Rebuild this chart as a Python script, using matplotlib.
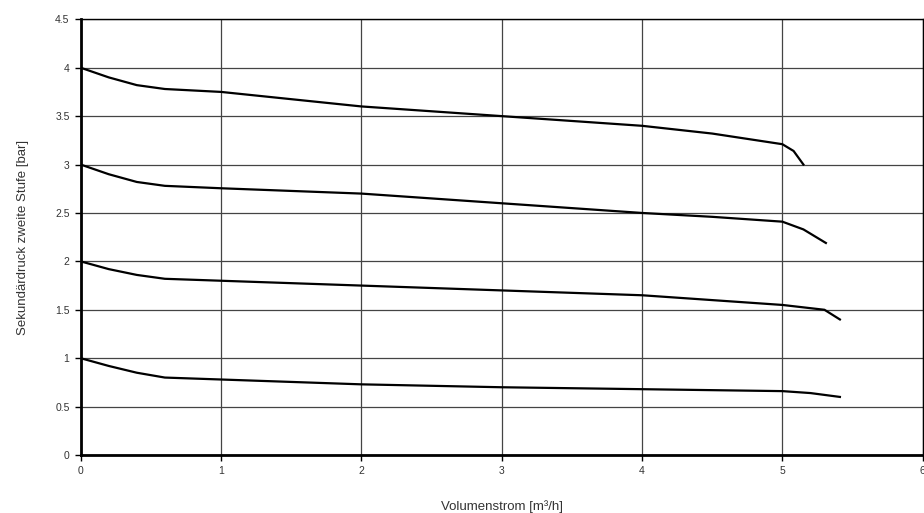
import matplotlib.pyplot as plt

plt.rcParams['font.family'] = ['Liberation Sans', 'DejaVu Sans']

# Sekundärdruck zweite Stufe über Volumenstrom, vier Kennlinien
x1 = [0, 0.2, 0.4, 0.6, 1.0, 2.0, 3.0, 4.0, 4.5, 5.0, 5.08, 5.15]
y1 = [4.0, 3.9, 3.82, 3.78, 3.75, 3.6, 3.5, 3.4, 3.32, 3.21, 3.14, 3.0]

x2 = [0, 0.2, 0.4, 0.6, 1.0, 2.0, 3.0, 4.0, 4.5, 5.0, 5.15, 5.31]
y2 = [3.0, 2.9, 2.82, 2.78, 2.755, 2.7, 2.6, 2.5, 2.46, 2.41, 2.33, 2.19]

x3 = [0, 0.2, 0.4, 0.6, 1.0, 2.0, 3.0, 4.0, 4.5, 5.0, 5.3, 5.41]
y3 = [2.0, 1.92, 1.86, 1.82, 1.8, 1.75, 1.7, 1.65, 1.6, 1.55, 1.5, 1.4]

x4 = [0, 0.2, 0.4, 0.6, 1.0, 2.0, 3.0, 4.0, 4.5, 5.0, 5.2, 5.41]
y4 = [1.0, 0.92, 0.85, 0.8, 0.78, 0.73, 0.7, 0.68, 0.67, 0.66, 0.64, 0.6]

xticks = [0, 1, 2, 3, 4, 5, 6]
yticks = [0, 0.5, 1, 1.5, 2, 2.5, 3, 3.5, 4, 4.5]
ytick_labels = ['0', '0.5', '1', '1.5', '2', '2.5', '3', '3.5', '4', '4.5']

fig = plt.figure(figsize=(9.24, 5.13), dpi=100)
ax = fig.add_axes([0.0873, 0.113, 0.9113, 0.8494])

for xs, ys in [(x1, y1), (x2, y2), (x3, y3), (x4, y4)]:
    ax.plot(xs, ys, color='black', lw=1.6, zorder=3)

ax.set_xlim(0, 6)
ax.set_ylim(0, 4.5)
ax.set_xticks(xticks)
ax.set_xticklabels([str(t) for t in xticks])
ax.set_yticks(yticks)
ax.set_yticklabels(ytick_labels)
ax.grid(True, color='#444444', lw=0.9)
ax.set_axisbelow(True)

for s in ax.spines.values():
    s.set_color('black')
    s.set_linewidth(1.0)
ax.spines['left'].set_linewidth(2.0)
ax.spines['bottom'].set_linewidth(2.0)

ax.tick_params(direction='out', length=4, width=1, colors='black',
               labelcolor='#333333', labelsize=7.5, pad=4)

ax.set_xlabel('Volumenstrom [m³/h]', fontsize=9.5, color='#333333', labelpad=17)
ax.set_ylabel('Sekundärdruck zweite Stufe [bar]', fontsize=9.5, color='#333333', labelpad=19)

fig.savefig('out.png', dpi=100)
